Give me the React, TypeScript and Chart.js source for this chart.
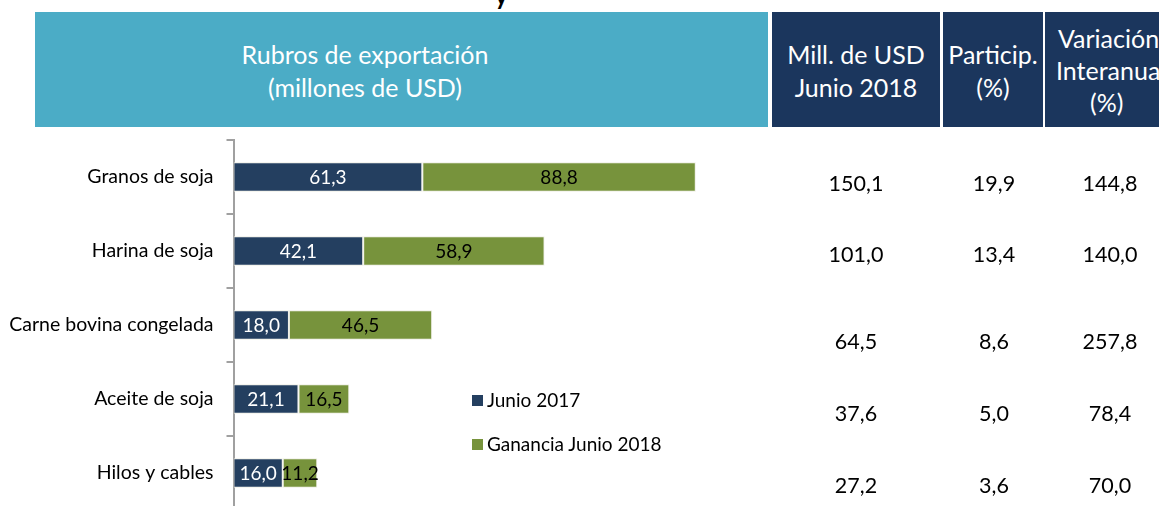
import React, { useEffect, useRef } from "react";
import { Chart, registerables } from "chart.js";

Chart.register(...registerables);

const categories = ["Granos de soja", "Harina de soja", "Carne bovina congelada", "Aceite de soja", "Hilos y cables"];
const junio2017 = [61.3, 42.1, 18.0, 21.1, 16.0];
const ganancia2018 = [88.8, 58.9, 46.5, 16.5, 11.2];
const millUSD2018 = ["150,1", "101,0", "64,5", "37,6", "27,2"];
const particip = ["19,9", "13,4", "8,6", "5,0", "3,6"];
const variacion = ["144,8", "140,0", "257,8", "78,4", "70,0"];
const seriesNames = ["Junio 2017", "Ganancia Junio 2018"];

const NAVY_BAR = "#243F60";
const GREEN_BAR = "#77933C";
const TEAL = "#4BACC6";
const NAVY_HEAD = "#1B365D";
const FONT = "Lato, 'Open Sans', sans-serif";

const rowY = [183, 254, 341, 413, 485];
const colX = [856, 994, 1110];

const fmt = (v: number) => v.toFixed(1).replace(".", ",");

export default function App() {
  const ref = useRef<HTMLCanvasElement | null>(null);

  useEffect(() => {
    if (!ref.current) return;
    const labelPlugin = {
      id: "barLabels",
      afterDatasetsDraw(chart: any) {
        const ctx = chart.ctx;
        ctx.save();
        ctx.font = `19px ${FONT}`;
        ctx.textAlign = "center";
        ctx.textBaseline = "middle";
        chart.data.datasets.forEach((ds: any, di: number) => {
          const meta = chart.getDatasetMeta(di);
          ctx.fillStyle = di === 0 ? "#ffffff" : "#000000";
          meta.data.forEach((el: any, i: number) => {
            const cx = (el.x + el.base) / 2;
            ctx.fillText(fmt(ds.data[i]), cx, el.y + 1);
          });
        });
        ctx.restore();
      },
    };
    const chart = new Chart(ref.current, {
      type: "bar",
      data: {
        labels: categories,
        datasets: [
          {
            label: seriesNames[0],
            data: junio2017,
            backgroundColor: NAVY_BAR,
            borderColor: "rgba(235,235,225,0.9)",
            borderWidth: 1,
            borderSkipped: false,
            barPercentage: 0.4,
            categoryPercentage: 1,
          },
          {
            label: seriesNames[1],
            data: ganancia2018,
            backgroundColor: GREEN_BAR,
            borderColor: "rgba(235,235,225,0.9)",
            borderWidth: 1,
            borderSkipped: false,
            barPercentage: 0.4,
            categoryPercentage: 1,
          },
        ],
      },
      options: {
        indexAxis: "y",
        animation: false,
        responsive: false,
        maintainAspectRatio: false,
        layout: { padding: { top: 140, bottom: 40, left: 0, right: 1159 - (233.5 + 160 * 3.08) } },
        plugins: { legend: { display: false }, tooltip: { enabled: false } },
        scales: {
          x: { stacked: true, display: false, min: 0, max: 160 },
          y: {
            stacked: true,
            afterFit: (s: any) => {
              s.width = 233.5;
            },
            border: { display: true, color: "#A0A0A0", width: 2 },
            grid: {
              display: true,
              drawOnChartArea: false,
              drawTicks: true,
              tickLength: 7,
              color: "#A0A0A0",
              lineWidth: 2,
              offset: true,
            },
            ticks: {
              color: "#000000",
              padding: 13,
              font: { family: FONT, size: 19.5 },
            },
          },
        },
      },
      plugins: [labelPlugin],
    });
    return () => chart.destroy();
  }, []);

  const headText: React.CSSProperties = {
    position: "absolute",
    color: "#ffffff",
    fontFamily: FONT,
    fontSize: 25,
    lineHeight: "33px",
    textAlign: "center",
    whiteSpace: "nowrap",
  };
  const cell: React.CSSProperties = {
    position: "absolute",
    fontFamily: FONT,
    fontSize: 21.5,
    color: "#000",
    width: 120,
    marginLeft: -60,
    textAlign: "center",
    lineHeight: "24px",
    marginTop: -12,
  };

  return (
    <div style={{ position: "absolute", left: 0, top: 0, width: 1159, height: 506, overflow: "hidden", background: "#fff" }}>
      <div style={{ position: "absolute", left: 495, top: -19, fontFamily: FONT, fontSize: 24, fontWeight: 700, color: "#000" }}>y</div>
      <div style={{ position: "absolute", left: 35, top: 12, width: 733, height: 115, background: TEAL }}>
        <div style={{ ...headText, left: 330 - 200, width: 400, top: 26 }}>
          Rubros de exportación
          <br />
          (millones de USD)
        </div>
      </div>
      <div style={{ position: "absolute", left: 772, top: 12, width: 168, height: 115, background: NAVY_HEAD }}>
        <div style={{ ...headText, left: -16, width: 200, top: 26 }}>
          Mill. de USD
          <br />
          Junio 2018
        </div>
      </div>
      <div style={{ position: "absolute", left: 943, top: 12, width: 100, height: 115, background: NAVY_HEAD }}>
        <div style={{ ...headText, left: -10, width: 120, top: 26 }}>
          Particip.
          <br />
          (%)
        </div>
      </div>
      <div style={{ position: "absolute", left: 1045, top: 12, width: 130, height: 115, background: NAVY_HEAD }}>
        <div style={{ ...headText, left: 11, width: 130, top: 10, lineHeight: "32px", textAlign: "left" }}>
          <div style={{ marginLeft: 2 }}>Variación</div>
          <div>Interanual</div>
          <div style={{ marginLeft: 34 }}>(%)</div>
        </div>
      </div>
      <canvas ref={ref} width={1159} height={550} style={{ position: "absolute", left: 0, top: 0, width: 1159, height: 550 }} />
      {categories.map((c, i) => (
        <React.Fragment key={c}>
          <div style={{ ...cell, left: colX[0], top: rowY[i] }}>{millUSD2018[i]}</div>
          <div style={{ ...cell, left: colX[1], top: rowY[i] }}>{particip[i]}</div>
          <div style={{ ...cell, left: colX[2], top: rowY[i] }}>{variacion[i]}</div>
        </React.Fragment>
      ))}
      {seriesNames.map((n, i) => (
        <div key={n} style={{ position: "absolute", left: 472, top: 394 + i * 44, display: "flex", alignItems: "center", fontFamily: FONT, fontSize: 19, color: "#000", whiteSpace: "nowrap" }}>
          <span style={{ display: "inline-block", width: 11, height: 11, background: i === 0 ? NAVY_BAR : GREEN_BAR, marginRight: 4 }} />
          <span style={{ lineHeight: "12px" }}>{n}</span>
        </div>
      ))}
    </div>
  );
}
